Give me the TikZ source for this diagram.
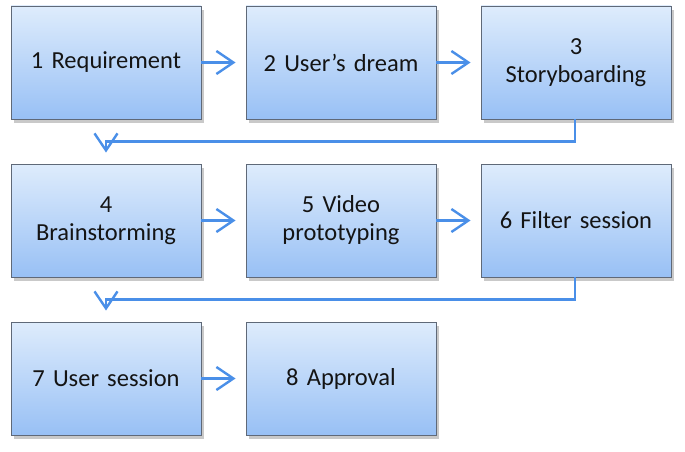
\documentclass[tikz,border=0pt]{standalone}
\usepackage{fontspec}
\setmainfont{Carlito}
\usetikzlibrary{arrows.meta,shadows}
\definecolor{boxtop}{RGB}{222,236,252}
\definecolor{boxbot}{RGB}{152,192,245}
\definecolor{boxedge}{RGB}{95,105,120}
\definecolor{arrblue}{RGB}{74,143,232}
\definecolor{txt}{RGB}{20,20,20}
\tikzset{
  stepbox/.style={rectangle, minimum width=190pt, minimum height=113pt, inner sep=0pt,
    top color=boxtop, bottom color=boxbot, draw=boxedge, line width=0.9pt,
    text=txt, align=center, text width=185pt,
    font=\fontsize{24.5}{28}\selectfont,
    drop shadow={shadow xshift=3pt, shadow yshift=-4pt, opacity=0.3, fill=black!70}},
  arr/.style={draw=arrblue, line width=2.4pt, -{Straight Barb[length=17pt,width=23pt,line width=2.4pt]}}
}
\begin{document}
\begin{tikzpicture}
\useasboundingbox (0,0) rectangle (685pt,-452pt);
\node[stepbox] (b1) at (106pt,-62.5pt) {1 Requirement};
\node[stepbox] (b2) at (341pt,-62.5pt) {2 User{\char"0027}s dream};
\node[stepbox] (b3) at (576pt,-62.5pt) {3\\Storyboarding};
\node[stepbox] (b4) at (106pt,-220.5pt) {4\\Brainstorming};
\node[stepbox] (b5) at (341pt,-220.5pt) {5 Video\\prototyping};
\node[stepbox] (b6) at (576pt,-220.5pt) {6 Filter session};
\node[stepbox] (b7) at (106pt,-378.5pt) {7 User session};
\node[stepbox] (b8) at (341pt,-378.5pt) {8 Approval};
\coordinate (c1) at ([yshift=11pt]b4.north);
\coordinate (c2) at ([yshift=11pt]b7.north);
\draw[arr] (b1.east) -- ([xshift=-10pt]b2.west);
\draw[arr] (b2.east) -- ([xshift=-10pt]b3.west);
\draw[arr] (b4.east) -- ([xshift=-10pt]b5.west);
\draw[arr] (b5.east) -- ([xshift=-10pt]b6.west);
\draw[arr] (b7.east) -- ([xshift=-10pt]b8.west);
\draw[arr] ([xshift=-1pt]b3.south) -- ++(0,-22pt) -| (c1);
\draw[arr] ([xshift=-1pt]b6.south) -- ++(0,-22pt) -| (c2);
\end{tikzpicture}
\end{document}
